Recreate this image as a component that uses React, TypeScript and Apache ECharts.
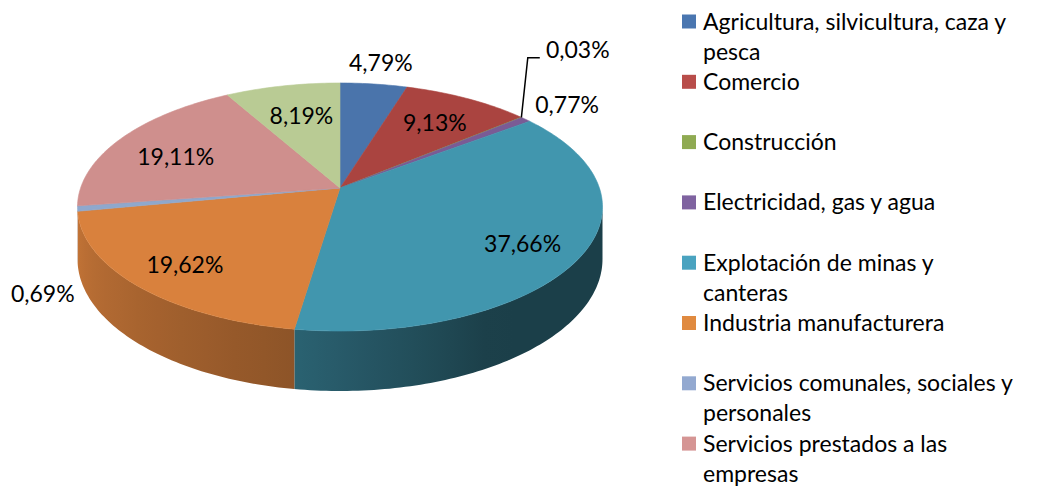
import React, { useEffect, useRef } from "react";
import * as echarts from "echarts";

// ---- data ----
const categories = [
  "Agricultura, silvicultura, caza y pesca",
  "Comercio",
  "Construcción",
  "Electricidad, gas y agua",
  "Explotación de minas y canteras",
  "Industria manufacturera",
  "Servicios comunales, sociales y personales",
  "Servicios prestados a las empresas",
  "Transporte y comunicaciones",
];
const shares = [4.79, 9.13, 0.03, 0.77, 37.66, 19.62, 0.69, 19.11, 8.19];

// ---- styles / layout ----
const colors = ["#4A74AB", "#AA4440", "#8DAA4F", "#7A5B95", "#4196AE", "#D9813D", "#8FA8CD", "#CF8F8D", "#B9CB94"];
const legendColors = ["#4A76B0", "#B84D4A", "#8FAA52", "#7F63A0", "#4AA3C0", "#E08A40", "#93A9D0", "#D59594", "#C3D69B"];
// label placement: radius factor on the pie top, plus pixel nudge
const labelPlacement = [
  { r: 1.25, dx: 0, dy: 0 },
  { r: 0.72, dx: 0, dy: 0 },
  { r: 1.25, dx: 16, dy: -53, leader: true },
  { r: 1.25, dx: 0, dy: 0 },
  { r: 0.77, dx: 0, dy: 4 },
  { r: 0.75, dx: -8, dy: 5 },
  { r: 1.25, dx: 33, dy: 79 },
  { r: 0.75, dx: 2, dy: 6 },
  { r: 0.75, dx: 6, dy: 6 },
];
const legendVisible = 8;
const LEGEND_FONT = "23px Lato";
const LEGEND_WRAP = 313;

const CX = 340;
const CY = 188;
const RX = 259.4;
const SY = 121.1;
const PERSP = 0.1533;
const DEPTH = 50.8;

function proj(r: number, th: number): [number, number, number] {
  const X = r * Math.sin(th);
  const Y = -r * Math.cos(th);
  const w = 1 - PERSP * Y;
  return [CX + (RX * X) / w, CY + (SY * Y) / w, w];
}

function shade(hex: string, f: number) {
  const n = parseInt(hex.slice(1), 16);
  const r = Math.min(255, Math.round(((n >> 16) & 255) * f));
  const g = Math.min(255, Math.round(((n >> 8) & 255) * f));
  const b = Math.min(255, Math.round((n & 255) * f));
  return `rgb(${r},${g},${b})`;
}

function brightness(th: number) {
  const d = (th * 180) / Math.PI;
  if (d <= 150) return 0.42;
  if (d <= 188) return 0.42 + ((d - 150) / 38) * 0.23;
  if (d <= 260) return 0.65 + ((d - 188) / 72) * 0.25;
  return 0.9;
}

function wrapText(text: string, font: string, maxW: number) {
  const ctx = document.createElement("canvas").getContext("2d");
  if (!ctx) return text;
  ctx.font = font;
  const words = text.split(" ");
  const lines: string[] = [];
  let cur = "";
  words.forEach((w) => {
    const test = cur ? cur + " " + w : w;
    if (cur && ctx.measureText(test).width > maxW) {
      lines.push(cur);
      cur = w;
    } else {
      cur = test;
    }
  });
  if (cur) lines.push(cur);
  return lines.join("\n");
}

export default function App() {
  const ref = useRef<HTMLDivElement>(null);
  useEffect(() => {
    if (!ref.current) return;
    const chart = echarts.init(ref.current, undefined, { renderer: "svg" });
    const total = shares.reduce((a, b) => a + b, 0);
    const starts: number[] = [];
    let acc = 0;
    shares.forEach((v) => {
      starts.push(acc);
      acc += v;
    });
    const TA = Math.acos(-PERSP);
    const TB = 2 * Math.PI - TA;

    const renderItem = (params: any, api: any) => {
      const i = params.dataIndex;
      const v = api.value(0);
      const t0 = (starts[i] / total) * 2 * Math.PI;
      const t1 = ((starts[i] + v) / total) * 2 * Math.PI;
      const children: any[] = [];
      const color = colors[i];

      // wall
      const lo = Math.max(t0, TA);
      const hi = Math.min(t1, TB);
      if (hi > lo) {
        const n = Math.max(2, Math.ceil(((hi - lo) * 180) / Math.PI));
        const top: number[][] = [];
        const bot: number[][] = [];
        for (let k = 0; k <= n; k++) {
          const th = lo + ((hi - lo) * k) / n;
          const [x, y, w] = proj(1, th);
          top.push([x, y]);
          bot.push([x, y + DEPTH / w]);
        }
        const xs = top.map((p) => p[0]);
        const xmin = Math.min(...xs);
        const xmax = Math.max(...xs);
        const stops: any[] = [];
        const m = 12;
        for (let k = 0; k <= m; k++) {
          const th = lo + ((hi - lo) * k) / m;
          const [x] = proj(1, th);
          stops.push({ offset: xmax > xmin ? (x - xmin) / (xmax - xmin) : 0, color: shade(color, brightness(th)) });
        }
        stops.sort((a, b) => a.offset - b.offset);
        children.push({
          type: "polygon",
          shape: { points: top.concat(bot.reverse()) },
          style: {
            fill: { type: "linear", x: 0, y: 0, x2: 1, y2: 0, colorStops: stops },
            stroke: "none",
          },
          z2: 1,
        });
      }

      // top face
      const pts: number[][] = [[CX, CY]];
      const n2 = Math.max(2, Math.ceil(((t1 - t0) * 180) / Math.PI));
      for (let k = 0; k <= n2; k++) {
        const th = t0 + ((t1 - t0) * k) / n2;
        const [x, y] = proj(1, th);
        pts.push([x, y]);
      }
      children.push({
        type: "polygon",
        shape: { points: pts },
        style: { fill: color, stroke: color, lineWidth: 0.6 },
        z2: 2,
      });

      // label
      const pl = labelPlacement[i];
      const mid = (t0 + t1) / 2;
      const [lx0, ly0] = proj(pl.r, mid);
      const lx = lx0 + pl.dx;
      const ly = ly0 + pl.dy;
      children.push({
        type: "text",
        style: {
          x: lx,
          y: ly,
          text: v.toFixed(2).replace(".", ",") + "%",
          fill: "#000",
          fontSize: 23,
          fontFamily: "Lato",
          align: "center",
          verticalAlign: "middle",
        },
        z2: 10,
      });
      if (pl.leader) {
        const [ex, ey] = proj(1, mid);
        children.push({
          type: "polyline",
          shape: { points: [[ex, ey], [lx - 50, ly + 9], [lx - 38, ly + 9]] },
          style: { stroke: "#000", lineWidth: 1.5, fill: "none" },
          z2: 10,
        });
      }
      return { type: "group", children };
    };

    const legendGraphics: any[] = [];
    for (let i = 0; i < legendVisible; i++) {
      const cy = 21.5 + i * 60.3;
      legendGraphics.push({
        type: "rect",
        shape: { x: 682, y: cy - 7, width: 14, height: 14 },
        style: { fill: legendColors[i] },
      });
      legendGraphics.push({
        type: "text",
        style: {
          x: 703,
          y: cy - 16,
          text: wrapText(categories[i], LEGEND_FONT, LEGEND_WRAP),
          lineHeight: 30,
          fontSize: 23,
          fontFamily: "Lato",
          fill: "#000",
          verticalAlign: "top",
          align: "left",
        },
      });
    }

    chart.setOption({
      animation: false,
      backgroundColor: "#fff",
      series: [
        {
          type: "custom",
          coordinateSystem: "none",
          renderItem,
          data: shares.map((v, i) => ({ value: [v], name: categories[i] })),
        },
      ],
      graphic: legendGraphics,
    });
    return () => chart.dispose();
  }, []);
  return <div ref={ref} style={{ position: "fixed", left: 0, top: 0, width: 1040, height: 491 }} />;
}
